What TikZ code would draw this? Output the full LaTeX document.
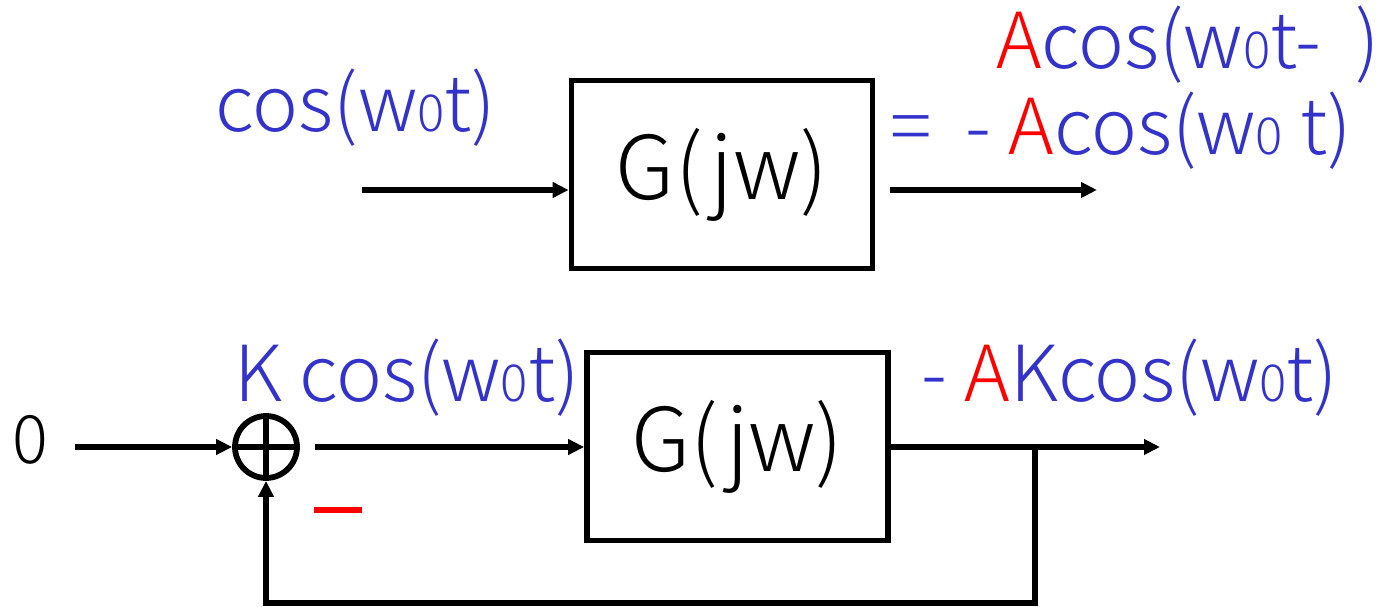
\documentclass[tikz,border=0pt]{standalone}
\usepackage{fontspec}
\setmainfont{Noto Sans CJK JP}[UprightFont={* Light}]
\usetikzlibrary{arrows.meta}
\definecolor{sigblue}{RGB}{51,51,204}
\newcommand{\wz}{w{\fontsize{29}{29}\selectfont 0}}

\begin{document}
\begin{tikzpicture}[x=0.02cm, y=-0.02cm, line width=3.3pt,
    >={Triangle[length=0.32cm,width=0.3cm]},
    blockbox/.style={draw, minimum width=6.02cm, minimum height=3.76cm, inner sep=0pt,
      font=\fontsize{50}{58}\selectfont},
    sigtext/.style={text=sigblue, inner sep=0pt, font=\fontsize{44}{52}\selectfont},
    sumnode/.style={draw, circle, minimum size=1.24cm, inner sep=0pt}]
  \useasboundingbox (0,0) rectangle (1386,607);

  % open loop
  \node[blockbox] (g1) at (722,174.5) {G(jw)\hspace{0.5cm}};
  \coordinate (in1) at (362,190);
  \coordinate (out1a) at (890,190);
  \coordinate (out1b) at (1097,190);
  \draw[->] (in1) -- (in1 -| g1.west);
  \draw[->] (out1a) -- (out1b);
  \node[sigtext] (inlbl) at (356,108) {cos(\wz t)};
  \node[sigtext] (outlbl) at (1188,45) {\textcolor{red}{A}cos(\wz t-\ \ )};
  \node[sigtext] (outeq) at (1121,131) {= \ - \textcolor{red}{A}cos(\wz\ t)};

  % closed loop
  \node[inner sep=0pt, font=\fontsize{38}{46}\selectfont] (zero) at (30,440) {0};
  \node[sumnode] (sum) at (266,447) {};
  \draw (sum.north) -- (sum.south);
  \draw (sum.west) -- (sum.east);
  \node[blockbox] (g2) at (737.5,446.5) {G(jw)\hspace{0.5cm}};
  \coordinate (in2) at (75,447);
  \coordinate (tap) at (1035,447);
  \coordinate (out2) at (1160,447);
  \coordinate (fbk) at (1035,603);
  \draw[->] (in2) -- (sum.west);
  \draw[->] ([xshift=0.3cm]sum.east) -- (sum.east -| g2.west);
  \draw[->] (sum.east -| g2.east) -- (out2);
  \draw[->] (tap) -- (fbk) -| (sum.south);
  \node[fill=red, minimum width=0.96cm, minimum height=0.12cm, inner sep=0pt] (minus) at (338,510) {};
  \node[sigtext] (errlbl) at (407,378) {K cos(\wz t)};
  \node[sigtext] (fbklbl) at (1130,378) {- \textcolor{red}{A}Kcos(\wz t)};
\end{tikzpicture}
\end{document}
